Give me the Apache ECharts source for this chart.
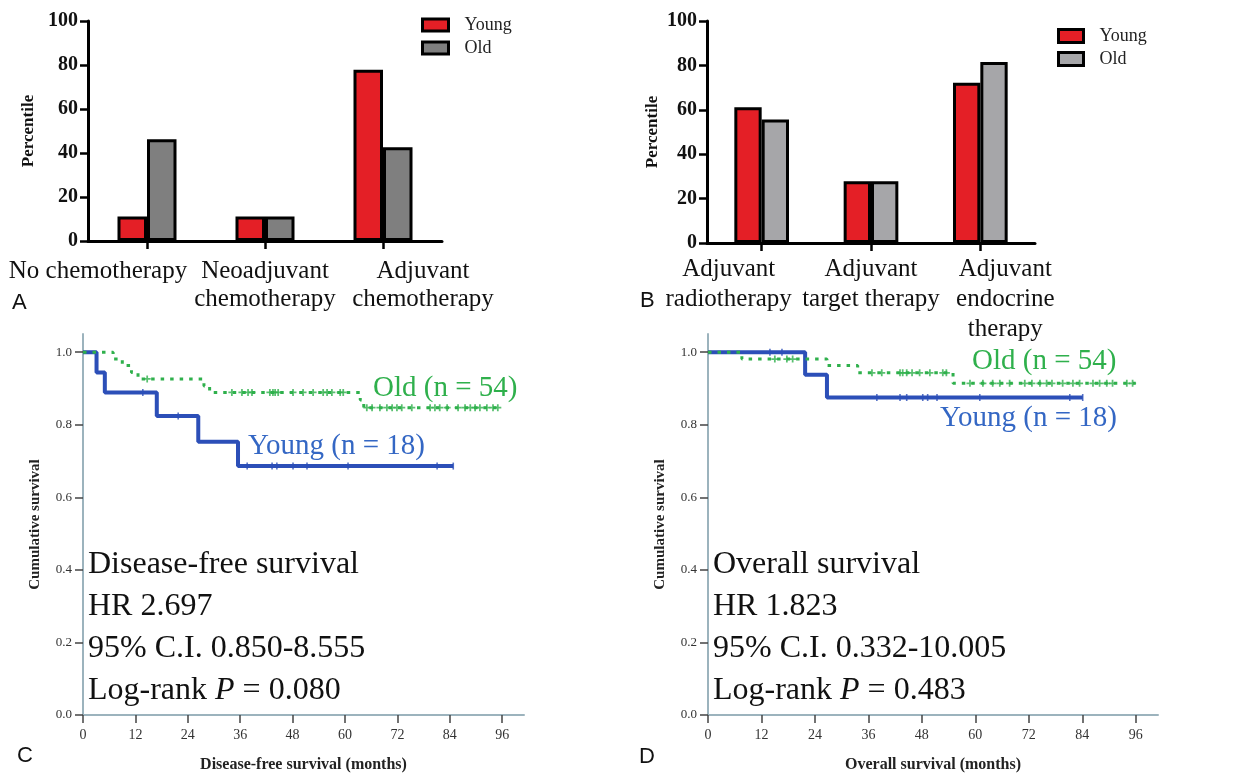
<!DOCTYPE html>
<html>
<head>
<meta charset="utf-8">
<title>Treatment and survival by age group</title>
<script src="https://cdn.jsdelivr.net/npm/echarts@6/dist/echarts.min.js"></script>
<style>
    html, body { margin: 0; padding: 0; background: #fff; }
    #main { width: 1234px; height: 773px; }
</style>
</head>
<body>
<div id="main"></div>
<script>
// ---- A: chemotherapy (%) ----
var chemoCats = ['No chemotherapy', 'Neoadjuvant\nchemotherapy', 'Adjuvant\nchemotherapy'];
var chemoYoung = [11.1, 11.1, 77.8];
var chemoOld = [46.3, 11.1, 42.6];

// ---- B: adjuvant therapy (%) ----
var adjCats = ['Adjuvant\nradiotherapy', 'Adjuvant\ntarget therapy', 'Adjuvant\nendocrine\ntherapy'];
var adjYoung = [61.1, 27.8, 72.2];
var adjOld = [55.6, 27.8, 81.5];

var pctTicks = [0, 20, 40, 60, 80, 100];
var survTicks = [0, 0.2, 0.4, 0.6, 0.8, 1.0];
var monthTicks = [0, 12, 24, 36, 48, 60, 72, 84, 96];

// ---- C: disease-free survival (Kaplan-Meier steps) ----
var youngDfsTime = [0, 3.1, 5.0, 16.9, 26.4, 35.5, 84.8];
var youngDfsSurv = [1.0, 0.944, 0.889, 0.824, 0.753, 0.686, 0.686];
var youngDfsCensor = [13.7, 21.8, 37.6, 43.3, 44.4, 48.1, 51.3, 60.7, 81.1, 84.8];

var oldDfsTime = [0, 6.9, 9.0, 11.1, 12.6, 27.7, 29.0, 63.5, 64.3, 96.0];
var oldDfsSurv = [1.0, 0.981, 0.963, 0.944, 0.926, 0.907, 0.889, 0.868, 0.847, 0.847];
var oldDfsCensor = [14.7, 34.1, 36.4, 37.8, 38.7, 42.8, 43.5, 44.0, 44.7, 48.1, 50.4, 52.7, 55.0,
    55.9, 57.0, 58.9, 59.6, 65.0, 66.2, 68.0, 69.6, 70.8, 71.9, 73.0, 75.3, 79.5, 80.6, 81.7,
    83.4, 85.9, 87.5, 88.7, 89.8, 90.9, 92.5, 93.9, 95.0];

// ---- D: overall survival ----
var youngOsTime = [0, 21.8, 26.7, 84.1];
var youngOsSurv = [1.0, 0.9375, 0.875, 0.875];
var youngOsCensor = [13.9, 16.6, 37.9, 43.1, 44.6, 48.2, 49.3, 51.4, 61.0, 81.2, 84.1];

var oldOsTime = [0, 7.6, 26.7, 33.6, 55.0, 96.0];
var oldOsSurv = [1.0, 0.981, 0.963, 0.943, 0.914, 0.914];
var oldOsCensor = [15.0, 17.7, 19.0, 36.8, 39.0, 43.1, 43.7, 44.6, 45.8, 47.5, 49.8, 52.7, 53.5,
    58.8, 61.7, 63.9, 65.5, 67.7, 71.1, 72.7, 74.5, 76.0, 77.2, 79.6, 81.9, 83.4, 86.4, 87.9,
    89.5, 90.8, 94.0, 95.3];

var dfsNotes = ['Disease-free survival', 'HR 2.697', '95% C.I. 0.850-8.555', 'Log-rank {i|P} = 0.080'];
var osNotes = ['Overall survival', 'HR 1.823', '95% C.I. 0.332-10.005', 'Log-rank {i|P} = 0.483'];

var RED = '#e41f26';
var GRAY_A = '#7f7f7f';
var GRAY_B = '#a6a6a9';
var BLUE = '#2c4fb8';
var BLUE_TEXT = '#3467c4';
var GREEN = '#2fb04c';
var KM_AXIS = '#9cb3bd';
var SERIF = '"Liberation Serif", "Times New Roman", serif';
var SANS = '"Liberation Sans", Arial, sans-serif';

// pair times with survival values
function steps(times, surv) {
    return times.map(function (t, i) { return [t, surv[i]]; });
}

// censor marks sit on the curve level in force at that time
function censorPoints(times, surv, cens) {
    return cens.map(function (c) {
        var lvl = surv[0];
        for (var i = 0; i < times.length; i++) {
            if (times[i] <= c) lvl = surv[i];
        }
        return [c, lvl];
    });
}

// category label shifts (px) like the original figure
function catLabels(shifts, fontSize, lineHeight) {
    var rich = {};
    shifts.forEach(function (s, i) {
        rich['s' + i] = {
            fontFamily: SERIF, fontSize: fontSize, lineHeight: lineHeight, color: '#111',
            padding: s < 0 ? [0, -2 * s, 0, 0] : [0, 0, 0, 2 * s]
        };
    });
    return {
        interval: 0,
        formatter: function (v, i) { return '{s' + i + '|' + v + '}'; },
        rich: rich
    };
}

function barYAxis(gridIndex, gap) {
    return {
        type: 'value', gridIndex: gridIndex, min: 0, max: 100, interval: 20,
        name: 'Percentile', nameLocation: 'middle', nameGap: gap, nameRotate: 90,
        nameTextStyle: { fontFamily: SERIF, fontWeight: 'bold', fontSize: 17, color: '#111' },
        axisLine: { show: true, lineStyle: { color: '#000', width: 3 } },
        axisTick: { show: true, length: 8, lineStyle: { color: '#000', width: 2.5 } },
        axisLabel: { margin: 10, fontFamily: SERIF, fontWeight: 'bold', fontSize: 20, color: '#111' },
        splitLine: { show: false }
    };
}

function barXAxis(gridIndex, cats, shifts, margin, lh) {
    var lab = catLabels(shifts, 25, lh);
    lab.margin = margin;
    return {
        type: 'category', gridIndex: gridIndex, data: cats,
        axisLine: { lineStyle: { color: '#000', width: 3 } },
        axisTick: { show: true, alignWithLabel: true, length: 8, lineStyle: { color: '#000', width: 2.5 } },
        axisLabel: lab,
        splitLine: { show: false }
    };
}

function kmXAxis(gridIndex, title) {
    return {
        type: 'value', gridIndex: gridIndex, min: 0, max: 101,
        name: title, nameLocation: 'middle', nameGap: 42,
        nameTextStyle: { fontFamily: SERIF, fontWeight: 'bold', fontSize: 16, color: '#222' },
        axisLine: { lineStyle: { color: KM_AXIS, width: 2 } },
        axisTick: { show: true, length: 8, customValues: monthTicks, lineStyle: { color: '#444', width: 1.5 } },
        axisLabel: { customValues: monthTicks, margin: 13, fontFamily: SERIF, fontSize: 14, color: '#333' },
        splitLine: { show: false }
    };
}

function kmYAxis(gridIndex) {
    return {
        type: 'value', gridIndex: gridIndex, min: 0, max: 1.05,
        name: 'Cumulative survival', nameLocation: 'middle', nameGap: 40, nameRotate: 90,
        nameTextStyle: { fontFamily: SERIF, fontWeight: 'bold', fontSize: 15, color: '#222' },
        axisLine: { show: true, lineStyle: { color: KM_AXIS, width: 2 } },
        axisTick: { show: true, length: 8, customValues: survTicks, lineStyle: { color: '#444', width: 1.5 } },
        axisLabel: {
            customValues: survTicks, margin: 11, fontFamily: SERIF, fontSize: 13, color: '#333',
            formatter: function (v) { return v.toFixed(1); }
        },
        splitLine: { show: false }
    };
}

function barSeries(name, idx, data, color) {
    return {
        name: name, type: 'bar', xAxisIndex: idx, yAxisIndex: idx, data: data,
        barGap: '0%', barCategoryGap: '50%',
        itemStyle: { color: color, borderColor: '#000', borderWidth: 3 }
    };
}

function kmLine(name, idx, times, surv, color, dashed) {
    return {
        name: name, type: 'line', step: 'end', xAxisIndex: idx, yAxisIndex: idx,
        data: steps(times, surv), symbol: 'none',
        lineStyle: { color: color, width: dashed ? 3 : 4, type: dashed ? [3.5, 6] : 'solid', cap: 'butt' },
        z: dashed ? 4 : 3
    };
}

function kmCensor(name, idx, times, surv, cens, color, plus) {
    return {
        name: name, type: 'scatter', xAxisIndex: idx, yAxisIndex: idx,
        data: censorPoints(times, surv, cens),
        symbol: plus ? 'path://M3,0h2v3h3v2h-3v3h-2v-3h-3v-2h3z' : 'rect',
        symbolSize: plus ? 7 : [1.6, 7],
        itemStyle: { color: color },
        z: 5
    };
}

function noteTexts(lines, x, y0) {
    return lines.map(function (t, i) {
        return {
            type: 'text', x: x, y: y0 + i * 42,
            style: {
                text: t, fill: '#111', fontFamily: SERIF, fontSize: 32,
                align: 'left', verticalAlign: 'middle', textAlign: 'left', textVerticalAlign: 'middle',
                rich: { i: { fontStyle: 'italic', fontFamily: SERIF, fontSize: 32, fill: '#111' } }
            }
        };
    });
}

function label(text, x, y, color, font, size) {
    return {
        type: 'text', x: x, y: y,
        style: {
            text: text, fill: color, fontFamily: font, fontSize: size,
            align: 'left', verticalAlign: 'middle', textAlign: 'left', textVerticalAlign: 'middle'
        }
    };
}

var chart = echarts.init(document.getElementById('main'), null, { renderer: 'canvas' });

var legendText = { fontFamily: SERIF, fontSize: 18, color: '#222', padding: [0, 0, 0, 11] };

chart.setOption({
    animation: false,
    backgroundColor: '#ffffff',
    textStyle: { fontFamily: SERIF },
    legend: [
        {
            left: 416, top: 11, orient: 'vertical', icon: 'rect',
            itemWidth: 26, itemHeight: 12, itemGap: 5,
            itemStyle: { borderColor: '#000', borderWidth: 3 },
            textStyle: legendText,
            data: [
                { name: 'Young', itemStyle: { color: RED } },
                { name: 'Old', itemStyle: { color: GRAY_A } }
            ]
        },
        {
            left: 1052, top: 22, orient: 'vertical', icon: 'rect',
            itemWidth: 25, itemHeight: 13, itemGap: 5,
            itemStyle: { borderColor: '#000', borderWidth: 3 },
            textStyle: legendText,
            data: [
                { name: 'Young', itemStyle: { color: RED } },
                { name: 'Old', itemStyle: { color: GRAY_B } }
            ]
        }
    ],
    grid: [
        { left: 88, top: 21, width: 354, height: 220, outerBoundsMode: 'none' },
        { left: 707, top: 21, width: 328, height: 222, outerBoundsMode: 'none' },
        { left: 83, top: 334, width: 441, height: 381, outerBoundsMode: 'none' },
        { left: 708, top: 334, width: 450, height: 381, outerBoundsMode: 'none' }
    ],
    xAxis: [
        barXAxis(0, chemoCats, [-49, 0, 40], 16, 28),
        barXAxis(1, adjCats, [-33, 0, 25], 11, 30),
        kmXAxis(2, 'Disease-free survival (months)'),
        kmXAxis(3, 'Overall survival (months)')
    ],
    yAxis: [
        barYAxis(0, 51),
        barYAxis(1, 46),
        kmYAxis(2),
        kmYAxis(3)
    ],
    series: [
        barSeries('Young', 0, chemoYoung, RED),
        barSeries('Old', 0, chemoOld, GRAY_A),
        barSeries('Young', 1, adjYoung, RED),
        barSeries('Old', 1, adjOld, GRAY_B),

        kmLine('Young DFS', 2, youngDfsTime, youngDfsSurv, BLUE, false),
        kmLine('Old DFS', 2, oldDfsTime, oldDfsSurv, GREEN, true),
        kmCensor('Young DFS censored', 2, youngDfsTime, youngDfsSurv, youngDfsCensor, BLUE, false),
        kmCensor('Old DFS censored', 2, oldDfsTime, oldDfsSurv, oldDfsCensor, GREEN, true),

        kmLine('Young OS', 3, youngOsTime, youngOsSurv, BLUE, false),
        kmLine('Old OS', 3, oldOsTime, oldOsSurv, GREEN, true),
        kmCensor('Young OS censored', 3, youngOsTime, youngOsSurv, youngOsCensor, BLUE, false),
        kmCensor('Old OS censored', 3, oldOsTime, oldOsSurv, oldOsCensor, GREEN, true)
    ],
    graphic: {
        elements: []
            .concat(noteTexts(dfsNotes, 88, 565))
            .concat(noteTexts(osNotes, 713, 565))
            .concat([
                label('Old (n = 54)', 373, 388, GREEN, SERIF, 29),
                label('Young (n = 18)', 248, 446, BLUE_TEXT, SERIF, 29),
                label('Old (n = 54)', 972, 361, GREEN, SERIF, 29),
                label('Young (n = 18)', 940, 418, BLUE_TEXT, SERIF, 29),
                label('A', 12, 303, '#111', SANS, 22),
                label('B', 640, 301, '#111', SANS, 22),
                label('C', 17, 756, '#111', SANS, 22),
                label('D', 639, 757, '#111', SANS, 22)
            ])
    }
});
</script>
</body>
</html>
